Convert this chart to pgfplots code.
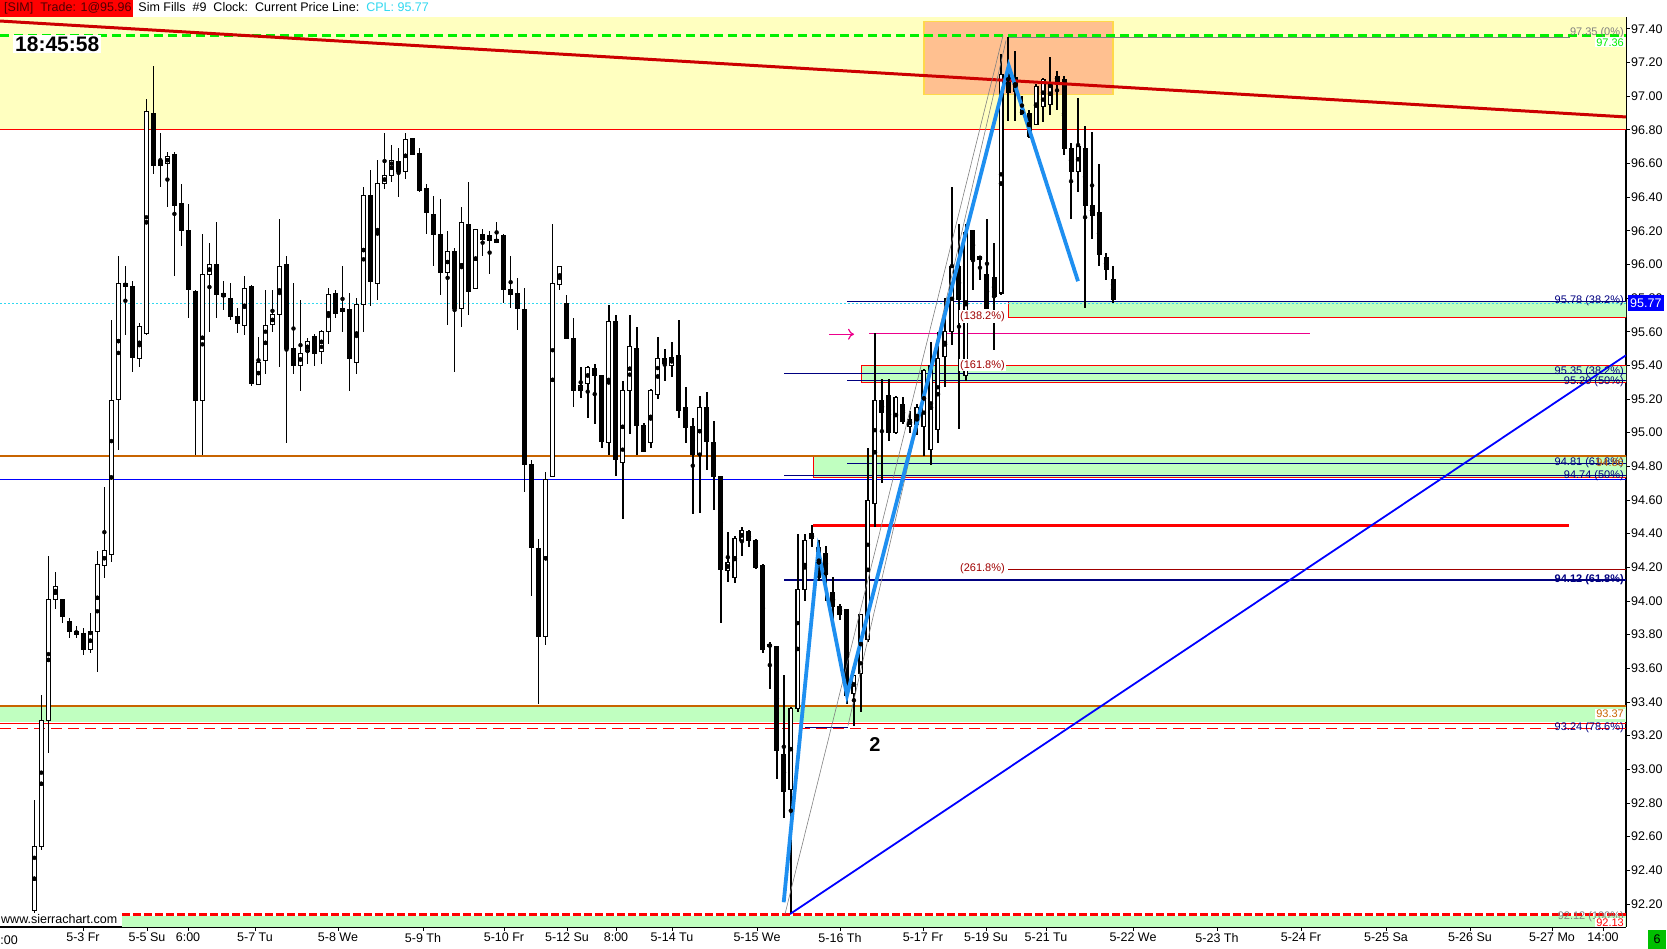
\documentclass[border=0pt]{standalone}
\usepackage{pgfplots}
\pgfplotsset{compat=1.18}
\usepackage{pgfplotstable}
\usepackage{fontspec}
\setmainfont{Liberation Sans}
\usetikzlibrary{arrows.meta}

\definecolor{zoneyel}{HTML}{FFFFC0}
\definecolor{salmonz}{HTML}{FFC090}
\definecolor{goldb}{HTML}{FFD84A}
\definecolor{zonegrn}{HTML}{C0FFC0}
\definecolor{trendred}{HTML}{CC0000}
\definecolor{lvlorange}{HTML}{C86400}
\definecolor{navyl}{HTML}{000080}
\definecolor{zigblue}{HTML}{1E8FF0}
\definecolor{cplcyan}{HTML}{30D8F0}
\definecolor{dashgrn}{HTML}{00F000}
\definecolor{fibred}{HTML}{A00000}
\definecolor{boxgrn}{HTML}{00C000}
\definecolor{simtxt}{HTML}{500000}

\begin{document}
% bars: i = bar number, x = 27.3 + 7.005*i (pixels)
\pgfplotstableread{
i o h l c
1 92.16 92.82 92.13 92.54
2 92.54 93.44 92.52 93.29
3 93.29 94.27 93.10 94.01
4 94.01 94.17 93.95 94.09
5 94.01 94.01 93.87 93.91
6 93.88 93.90 93.78 93.82
7 93.80 93.85 93.78 93.82
8 93.81 93.84 93.68 93.71
9 93.71 93.93 93.69 93.82
10 93.82 94.30 93.58 94.22
11 94.21 94.68 94.14 94.30
12 94.28 95.67 94.23 95.19
13 95.20 96.05 94.90 95.89
14 95.89 95.99 95.58 95.87
15 95.87 95.90 95.36 95.45
16 95.44 95.65 95.39 95.63
17 95.59 96.98 95.58 96.91
18 96.90 97.18 96.54 96.59
19 96.62 96.78 96.46 96.59
20 96.60 96.67 96.34 96.64
21 96.65 96.67 95.93 96.35
22 96.36 96.48 96.11 96.20
23 96.20 96.36 95.68 95.85
24 95.84 95.85 94.87 95.19
25 95.19 96.18 94.87 95.94
26 95.94 96.13 95.60 96.00
27 96.00 96.25 95.68 95.82
28 95.83 95.90 95.73 95.81
29 95.80 95.89 95.67 95.69
30 95.69 95.74 95.59 95.65
31 95.64 95.93 95.58 95.86
32 95.87 95.88 95.28 95.29
33 95.29 95.57 95.29 95.42
34 95.43 95.85 95.35 95.64
35 95.64 95.85 95.60 95.70
36 95.70 96.27 95.39 95.99
37 96.00 96.05 94.94 95.50
38 95.50 95.89 95.35 95.40
39 95.40 95.79 95.25 95.47
40 95.48 95.56 95.41 95.54
41 95.57 95.59 95.40 95.47
42 95.48 95.61 95.41 95.60
43 95.60 95.86 95.53 95.82
44 95.83 95.85 95.68 95.71
45 95.72 95.99 95.60 95.74
46 95.73 95.83 95.25 95.44
47 95.42 95.80 95.35 95.76
48 95.76 96.46 95.60 96.41
49 96.41 96.56 95.75 95.90
50 95.89 96.62 95.79 96.48
51 96.48 96.78 96.45 96.53
52 96.53 96.71 96.49 96.62
53 96.61 96.69 96.40 96.55
54 96.55 96.78 96.51 96.74
55 96.75 96.75 96.65 96.65
56 96.66 96.69 96.43 96.44
57 96.45 96.48 96.18 96.31
58 96.30 96.41 95.99 96.18
59 96.18 96.39 95.82 95.95
60 95.95 96.20 95.64 96.08
61 96.08 96.10 95.36 95.74
62 95.74 96.34 95.63 96.25
63 96.24 96.49 95.70 95.84
64 95.86 96.21 95.86 96.21
65 96.18 96.21 96.05 96.15
66 96.17 96.20 95.94 96.14
67 96.13 96.25 96.13 96.15
68 96.17 96.18 95.77 95.85
69 95.85 96.05 95.74 95.82
70 95.83 95.92 95.61 95.74
71 95.73 95.86 94.65 94.81
72 94.81 94.84 94.03 94.32
73 94.31 94.37 93.39 93.79
74 93.79 94.77 93.74 94.72
75 94.74 96.24 94.74 95.89
76 95.88 95.99 95.85 95.99
77 95.77 95.82 95.56 95.56
78 95.56 95.68 95.15 95.25
79 95.25 95.39 95.21 95.28
80 95.29 95.40 95.09 95.39
81 95.38 95.41 95.05 95.34
82 95.34 95.34 94.91 94.95
83 94.94 95.76 94.87 95.66
84 95.66 95.70 94.74 94.84
85 94.82 95.31 94.49 95.25
86 95.25 95.70 94.99 95.51
87 95.50 95.63 94.87 95.04
88 95.04 95.06 94.89 94.89
89 94.94 95.26 94.91 95.25
90 95.23 95.57 95.20 95.44
91 95.44 95.50 95.31 95.41
92 95.40 95.54 95.33 95.45
93 95.46 95.67 95.09 95.13
94 95.15 95.27 94.94 95.03
95 95.04 95.09 94.52 94.87
96 94.87 95.22 94.52 95.15
97 95.15 95.24 94.78 94.95
98 94.94 95.07 94.54 94.74
99 94.74 94.74 93.87 94.19
100 94.18 94.41 94.11 94.23
101 94.14 94.39 94.11 94.37
102 94.36 94.44 94.27 94.42
103 94.41 94.42 94.32 94.36
104 94.36 94.37 94.19 94.20
105 94.21 94.22 93.69 93.71
106 93.74 93.76 93.48 93.73
107 93.73 93.73 92.94 93.11
108 93.09 93.56 92.71 92.87
109 92.88 93.37 92.14 93.36
110 93.36 94.40 93.34 94.07
111 94.07 94.40 94.00 94.36
112 94.37 94.45 94.32 94.40
113 94.32 94.36 94.12 94.14
114 94.28 94.33 94.00 94.16
115 94.05 94.14 93.87 93.97
116 93.97 93.98 93.89 93.92
117 93.95 93.95 93.39 93.44
118 93.45 93.56 93.26 93.56
119 93.57 93.92 93.34 93.92
120 93.77 94.91 93.76 94.60
121 94.58 95.59 94.44 95.19
122 95.19 95.32 94.70 95.12
123 95.22 95.32 94.95 95.00
124 95.00 95.22 94.99 95.21
125 95.17 95.21 95.05 95.07
126 95.04 95.13 95.00 95.08
127 95.05 95.17 94.99 95.15
128 95.04 95.38 94.86 95.37
129 94.90 95.54 94.81 95.40
130 95.02 95.60 94.94 95.44
131 95.45 95.80 95.27 95.60
132 95.60 96.46 95.52 95.99
133 95.99 96.24 95.02 95.79
134 95.34 96.24 95.31 96.19
135 96.20 96.20 95.85 96.03
136 96.03 96.05 95.91 96.05
137 95.94 96.27 95.74 95.74
138 95.92 96.13 95.49 95.81
139 95.83 97.25 95.82 97.13
140 97.13 97.35 96.85 97.02
141 97.11 97.27 96.85 97.03
142 96.92 97.00 96.89 96.89
143 96.90 96.92 96.75 96.76
144 96.83 97.07 96.83 97.06
145 96.94 97.11 96.85 97.10
146 96.95 97.23 96.89 97.08
147 97.09 97.15 96.92 97.12
148 97.10 97.12 96.65 96.69
149 96.69 96.72 96.27 96.55
150 96.55 96.99 96.43 96.70
151 96.69 96.82 95.74 96.35
152 96.35 96.79 96.15 96.29
153 96.31 96.60 95.99 96.06
154 96.04 96.07 95.91 95.97
155 95.91 95.99 95.77 95.79
}\candles

\begin{tikzpicture}[font=\fontsize{12.5}{14}\selectfont]
\useasboundingbox (0,0) rectangle (1667pt,949pt);
\begin{axis}[
    at={(0pt,22pt)}, anchor=south west,
    scale only axis, width=1626pt, height=910pt,
    xmin=0, xmax=1626, ymin=92.063, ymax=97.470,
    axis x line*=bottom, axis y line*=right,
    axis line style={-, black, line width=1.2pt},
    tick align=outside, major tick length=4pt,
    tick style={black, line width=0.8pt},
    ytick={92.2,92.4,92.6,92.8,93.0,93.2,93.4,93.6,93.8,94.0,94.2,94.4,94.6,94.8,95.0,95.2,95.4,95.6,95.8,96.0,96.2,96.4,96.6,96.8,97.0,97.2,97.4},
    yticklabels={92.20,92.40,92.60,92.80,93.00,93.20,93.40,93.60,93.80,94.00,94.20,94.40,94.60,94.80,95.00,95.20,95.40,95.60,95.80,96.00,96.20,96.40,96.60,96.80,97.00,97.20,97.40},
    xtick={83,147,188,255,338,423,504,567,616,672,757,840,923,986,1046,1133,1217,1301,1386,1470,1552,1603},
    xticklabels={5-3 Fr,5-5 Su,6:00,5-7 Tu,5-8 We,5-9 Th,5-10 Fr,5-12 Su,8:00,5-14 Tu,5-15 We,5-16 Th,5-17 Fr,5-19 Su,5-21 Tu,5-22 We,5-23 Th,5-24 Fr,5-25 Sa,5-26 Su,5-27 Mo,14:00},
    yticklabel style={inner sep=1pt},
    xticklabel style={inner sep=2pt},
]
% zones
\addplot[fill=zoneyel, draw=none] coordinates {(0,96.80) (1626,96.80) (1626,97.47) (0,97.47)} -- cycle;
\addplot[red, line width=0.8pt] coordinates {(0,96.80) (1626,96.80)};
\addplot[fill=salmonz, draw=goldb, line width=1.2pt] coordinates {(924,97.01) (1113,97.01) (1113,97.445) (924,97.445)} -- cycle;
\addplot[fill=zonegrn, draw=red, line width=1pt] coordinates {(1008,95.685) (1640,95.685) (1640,95.78) (1008,95.78)} -- cycle;
\addplot[fill=zonegrn, draw=red, line width=1pt] coordinates {(861,95.30) (1640,95.30) (1640,95.40) (861,95.40)} -- cycle;
\addplot[fill=zonegrn, draw=red, line width=1pt] coordinates {(813,94.735) (1640,94.735) (1640,94.86) (813,94.86)} -- cycle;
\addplot[fill=zonegrn, draw=none] coordinates {(0,93.28) (1626,93.28) (1626,93.375) (0,93.375)} -- cycle;
\addplot[fill=zonegrn, draw=none] coordinates {(122,92.063) (1626,92.063) (1626,92.13) (122,92.13)} -- cycle;
% level lines
\addplot[dashgrn, line width=3pt, dash pattern=on 9pt off 5pt] coordinates {(0,97.36) (1626,97.36)};
\addplot[gray, line width=0.6pt] coordinates {(1008,97.35) (1570,97.35)};
\addplot[cplcyan, line width=0.8pt, dash pattern=on 1.5pt off 2.5pt] coordinates {(0,95.77) (1626,95.77)};
\addplot[navyl, line width=0.8pt] coordinates {(847,95.78) (1626,95.78)};
\addplot[navyl, line width=0.8pt] coordinates {(784,95.355) (1626,95.355)};
\addplot[navyl, line width=0.8pt] coordinates {(847,95.31) (1626,95.31)};
\addplot[lvlorange, line width=1.6pt] coordinates {(0,94.86) (1626,94.86)};
\addplot[navyl, line width=0.8pt] coordinates {(847,94.82) (1626,94.82)};
\addplot[navyl, line width=0.8pt] coordinates {(784,94.745) (1626,94.745)};
\addplot[blue, line width=0.8pt] coordinates {(0,94.72) (1626,94.72)};
\addplot[red, line width=3pt] coordinates {(813,94.45) (1569,94.45)};
\addplot[fibred, line width=0.7pt] coordinates {(1008,94.19) (1626,94.19)};
\addplot[navyl, line width=2pt] coordinates {(784,94.125) (1626,94.125)};
\addplot[lvlorange, line width=1.8pt] coordinates {(0,93.377) (1626,93.377)};
\addplot[red, line width=0.8pt] coordinates {(0,93.275) (1626,93.275)};
\addplot[red, line width=0.9pt, dash pattern=on 11pt off 6pt] coordinates {(0,93.245) (1626,93.245)};
\addplot[navyl, line width=0.8pt] coordinates {(805,93.25) (848,93.25)};
\addplot[red, line width=3pt, dash pattern=on 8pt off 3pt] coordinates {(122,92.135) (1626,92.135)};
\addplot[magenta, line width=1.2pt] coordinates {(869,95.59) (1310,95.59)};
\addplot[magenta, line width=1.2pt, -{To[length=6pt,width=11pt]}] coordinates {(829,95.585) (854,95.585)};
% candles: wicks, bodies, hollow insides of up bars
\addplot[only marks, mark=none,
    error bars/.cd, y dir=both, y explicit, error mark=none,
    error bar style={draw=black, line width=1.6pt}]
    table[x expr={27.3+7.005*\thisrow{i}}, y expr={(\thisrow{h}+\thisrow{l})/2},
          y error expr={(\thisrow{h}-\thisrow{l})/2}] {\candles};
\addplot[only marks, mark=none,
    error bars/.cd, y dir=both, y explicit, error mark=none,
    error bar style={draw=black, line width=5pt}]
    table[x expr={27.3+7.005*\thisrow{i}}, y expr={(\thisrow{o}+\thisrow{c})/2},
          y error expr={abs(\thisrow{o}-\thisrow{c})/2+0.003}] {\candles};
\addplot[only marks, mark=none,
    error bars/.cd, y dir=both, y explicit, error mark=none,
    error bar style={draw=white, line width=2.6pt}]
    table[x expr={27.3+7.005*\thisrow{i}}, y expr={(\thisrow{o}+\thisrow{c})/2},
          y error expr={max((\thisrow{c}-\thisrow{o})/2-0.003,0)}] {\candles};
% drawings
\addplot[trendred, line width=3pt] coordinates {(0,97.446) (1626,96.876)};
\addplot[gray, line width=0.6pt] coordinates {(785,92.14) (1003,97.36)};
\addplot[gray, line width=0.6pt] coordinates {(848,93.26) (1006,97.33)};
\addplot[blue, line width=1.8pt] coordinates {(790,92.14) (1626,95.46)};
\addplot[zigblue, line width=3.8pt] coordinates {(783.7,92.21) (818.3,94.30) (847,93.44) (1008.7,97.18) (1078,95.90)};
% texts
\begin{scope}[font=\fontsize{11}{12}\selectfont, inner sep=1pt]
\node[anchor=east, gray] at (1625,97.375) {97.35  (0\%)};
\node[anchor=east, dashgrn, fill=white] at (1625,97.32) {97.36};
\node[anchor=east, navyl] at (1625,95.785) {95.78  (38.2\%)};
\node[anchor=east, navyl] at (1625,95.36) {95.35  (38.2\%)};
\node[anchor=east, navyl] at (1625,95.305) {95.29  (50\%)};
\node[anchor=east, navyl] at (1625,94.82) {94.81  (61.8\%)};
\node[anchor=east, lvlorange] at (1625,94.82) {94.86};
\node[anchor=east, navyl] at (1625,94.745) {94.74  (50\%)};
\node[anchor=east, navyl] at (1625,94.125) {\bfseries 94.12  (61.8\%)};
\node[anchor=east, lvlorange, fill=white] at (1625,93.33) {93.37};
\node[anchor=east, navyl] at (1625,93.245) {93.24  (78.6\%)};
\node[anchor=east, gray] at (1625,92.125) {92.12  (100\%)};
\node[anchor=east, red, fill=white] at (1625,92.09) {92.13};
\node[anchor=east, fibred, fill=white] at (1006,95.69) {(138.2\%)};
\node[anchor=east, fibred, fill=white] at (1006,95.40) {(161.8\%)};
\node[anchor=east, fibred, fill=white] at (1006,94.19) {(261.8\%)};
\end{scope}
\node[font=\fontsize{20}{22}\bfseries] at (875,93.15) {2};
\coordinate (cpl) at (1626,95.77);
\end{axis}
% header, clock, price box and corner texts
\fill[white] (0,932pt) rectangle (1667pt,949pt);
\fill[red] (0,932pt) rectangle (133pt,949pt);
\node[anchor=west, inner sep=0pt] at (4pt,940.5pt) {\textcolor{simtxt}{[SIM]\ \ Trade: 1@95.96}\ \ Sim Fills\ \ \#9\ \ Clock:\ \ Current Price Line:\ \ \textcolor{cplcyan}{CPL: 95.77}};
\node[anchor=west, fill=white, inner sep=2pt, font=\fontsize{21}{23}\bfseries] at (13pt,905pt) {18:45:58};
\node[anchor=west, fill=blue, text=white, inner sep=2pt, minimum height=16pt] at ([xshift=2pt]cpl) {95.77};
\node[anchor=west, fill=white, inner sep=1pt] at (0pt,30pt) {www.sierrachart.com};
\node[anchor=east, inner sep=0pt] at (18pt,9pt) {:00};
\node[fill=boxgrn, minimum width=18pt, minimum height=19pt, inner sep=0pt] at (1657pt,9.5pt) {6};
\end{tikzpicture}
\end{document}
